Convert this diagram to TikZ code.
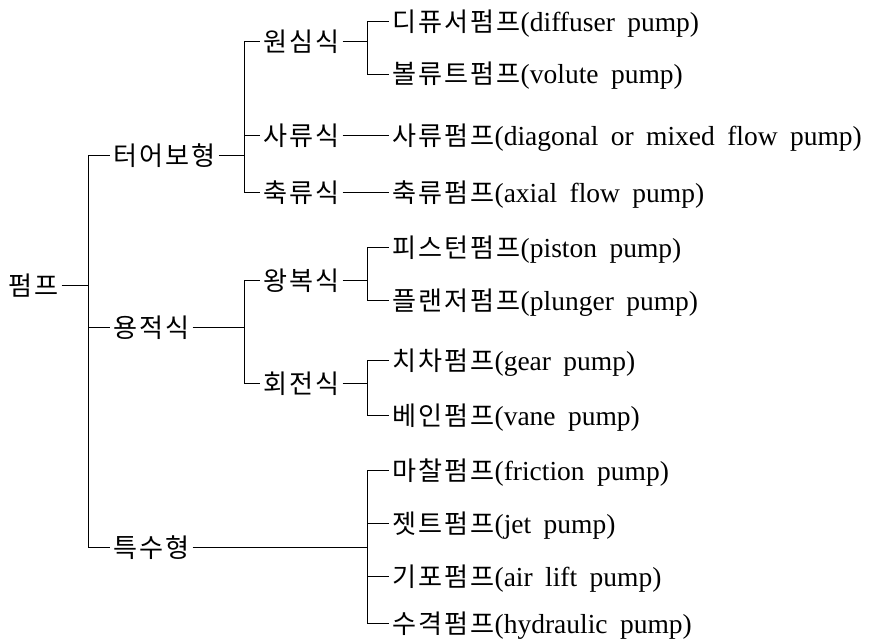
\documentclass[tikz,border=0pt]{standalone}
\usepackage{fontspec}
\setmainfont[WordSpace=1.8]{Liberation Serif}
\newfontfamily\kr[Scale=0.95,LetterSpace=8]{Noto Sans CJK KR}
\usetikzlibrary{positioning}

\begin{document}
\begin{tikzpicture}[
  x=1pt, y=-1pt,
  item/.style={anchor=west, inner xsep=3pt, inner ysep=0pt, text height=20pt, text depth=0pt, font=\fontsize{27.5}{32}\selectfont},
  link/.style={line width=1pt}
]
\useasboundingbox (0,0) rectangle (891,642);
% root and first level
\node[item] (pump) at (5,285) {\kr 펌프};
\node[item] (turbo) at (110,155) {\kr 터어보형};
\node[item] (posdisp) at (110,327) {\kr 용적식};
\node[item] (special) at (110,547) {\kr 특수형};
% second level
\node[item] (centri) at (260,42) {\kr 원심식};
\node[item] (mixed) at (260,135) {\kr 사류식};
\node[item] (axial) at (260,192) {\kr 축류식};
\node[item] (recip) at (260,280) {\kr 왕복식};
\node[item] (rotary) at (260,383) {\kr 회전식};
% pumps
\node[item] (diffuser) at (389,22) {{\kr 디퓨서펌프}(diffuser pump)};
\node[item] (volute) at (389,74) {{\kr 볼류트펌프}(volute pump)};
\node[item] (mixedpump) at (389,135) {{\kr 사류펌프}(diagonal or mixed flow pump)};
\node[item] (axialpump) at (389,192) {{\kr 축류펌프}(axial flow pump)};
\node[item] (piston) at (389,247) {{\kr 피스턴펌프}(piston pump)};
\node[item] (plunger) at (389,300) {{\kr 플랜저펌프}(plunger pump)};
\node[item] (gear) at (389,360) {{\kr 치차펌프}(gear pump)};
\node[item] (vane) at (389,415) {{\kr 베인펌프}(vane pump)};
\node[item] (friction) at (389,470) {{\kr 마찰펌프}(friction pump)};
\node[item] (jet) at (389,523) {{\kr 젯트펌프}(jet pump)};
\node[item] (airlift) at (389,576) {{\kr 기포펌프}(air lift pump)};
\node[item] (hydraulic) at (389,623) {{\kr 수격펌프}(hydraulic pump)};
% junction columns
\coordinate (j0) at (88,0);
\coordinate (j1) at (244,0);
\coordinate (j2) at (367,0);
% links
\draw[link] (pump.east) -- (pump.east -| j0);
\foreach \n in {turbo,posdisp,special}
  \draw[link] (pump.east -| j0) |- (\n.west);
\draw[link] (turbo.east) -- (turbo.east -| j1);
\foreach \n in {centri,mixed,axial}
  \draw[link] (turbo.east -| j1) |- (\n.west);
\draw[link] (posdisp.east) -- (posdisp.east -| j1);
\foreach \n in {recip,rotary}
  \draw[link] (posdisp.east -| j1) |- (\n.west);
\draw[link] (centri.east) -- (centri.east -| j2);
\foreach \n in {diffuser,volute}
  \draw[link] (centri.east -| j2) |- (\n.west);
\draw[link] (mixed.east) -- (mixedpump.west);
\draw[link] (axial.east) -- (axialpump.west);
\draw[link] (recip.east) -- (recip.east -| j2);
\foreach \n in {piston,plunger}
  \draw[link] (recip.east -| j2) |- (\n.west);
\draw[link] (rotary.east) -- (rotary.east -| j2);
\foreach \n in {gear,vane}
  \draw[link] (rotary.east -| j2) |- (\n.west);
\draw[link] (special.east) -- (special.east -| j2);
\foreach \n in {friction,jet,airlift,hydraulic}
  \draw[link] (special.east -| j2) |- (\n.west);
\end{tikzpicture}
\end{document}
